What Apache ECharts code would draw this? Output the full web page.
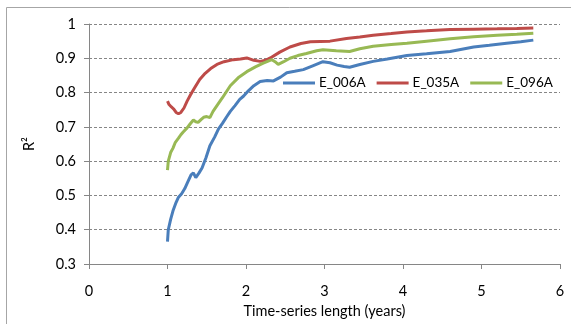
<!DOCTYPE html>
<html>
<head>
<meta charset="utf-8">
<script src="https://cdn.jsdelivr.net/npm/echarts@6/dist/echarts.min.js"></script>
<style>html,body{margin:0;padding:0;background:#fff;}#c{width:571px;height:324px;}</style>
</head>
<body>
<div id="c"></div>
<script>
const seriesNames = ['E_006A', 'E_035A', 'E_096A'];
const xTicks = [0, 1, 2, 3, 4, 5, 6];
const yTicks = [0.3, 0.4, 0.5, 0.6, 0.7, 0.8, 0.9, 1];

const e006A_x = [1.00,1.01,1.04,1.07,1.11,1.14,1.18,1.22,1.26,1.30,1.33,1.36,1.40,1.44,1.49,1.54,1.60,1.65,1.70,1.75,1.80,1.86,1.92,1.97,2.03,2.10,2.18,2.27,2.35,2.44,2.52,2.62,2.73,2.85,2.98,3.07,3.16,3.25,3.32,3.45,3.62,3.80,4.05,4.30,4.60,4.90,5.10,5.32,5.50,5.66];
const e006A_y = [0.365,0.40,0.43,0.455,0.48,0.495,0.505,0.52,0.54,0.56,0.566,0.552,0.565,0.58,0.61,0.645,0.67,0.694,0.71,0.728,0.745,0.762,0.78,0.79,0.805,0.82,0.832,0.835,0.834,0.845,0.858,0.862,0.867,0.878,0.89,0.887,0.88,0.876,0.874,0.882,0.891,0.898,0.908,0.913,0.92,0.933,0.938,0.944,0.948,0.953];

const e035A_x = [1.00,1.02,1.05,1.08,1.11,1.14,1.17,1.21,1.25,1.29,1.34,1.41,1.48,1.55,1.63,1.72,1.84,1.93,2.01,2.10,2.18,2.25,2.31,2.43,2.56,2.70,2.82,3.07,3.28,3.45,3.62,3.85,4.05,4.30,4.60,4.90,5.20,5.45,5.66];
const e035A_y = [0.775,0.765,0.758,0.752,0.742,0.738,0.742,0.755,0.775,0.792,0.812,0.838,0.856,0.87,0.882,0.89,0.896,0.898,0.901,0.894,0.891,0.894,0.901,0.918,0.933,0.943,0.948,0.95,0.958,0.962,0.967,0.972,0.977,0.98,0.984,0.985,0.986,0.987,0.988];

const e096A_x = [1.00,1.01,1.04,1.07,1.10,1.14,1.17,1.20,1.25,1.29,1.33,1.36,1.39,1.43,1.46,1.50,1.54,1.58,1.63,1.70,1.80,1.90,2.01,2.12,2.22,2.33,2.37,2.41,2.48,2.56,2.66,2.77,2.90,2.98,3.15,3.32,3.45,3.62,3.85,4.05,4.30,4.60,4.90,5.20,5.45,5.66];
const e096A_y = [0.574,0.60,0.625,0.638,0.655,0.667,0.677,0.685,0.697,0.709,0.72,0.715,0.713,0.722,0.728,0.73,0.727,0.745,0.762,0.785,0.82,0.843,0.861,0.875,0.886,0.896,0.89,0.882,0.89,0.9,0.908,0.914,0.922,0.925,0.922,0.92,0.928,0.935,0.94,0.944,0.95,0.957,0.963,0.967,0.97,0.973];

const colors = ['#4a7ebb', '#be4b48', '#98b954'];
const xs = [e006A_x, e035A_x, e096A_x];
const ys = [e006A_y, e035A_y, e096A_y];

const font = 'Lato';
const chart = echarts.init(document.getElementById('c'));
chart.setOption({
  animation: false,
  textStyle: { fontFamily: font },
  graphic: [{
    type: 'rect', shape: { x: 6.5, y: 7.5, width: 600, height: 400 },
    style: { fill: 'none', stroke: '#a6a6a6', lineWidth: 1 }, silent: true, z: -1
  }],
  grid: { left: 89, top: 24, right: 11, bottom: 57.3 },
  legend: {
    data: seriesNames,
    left: 283, top: 76, padding: 0,
    icon: 'rect', itemWidth: 32, itemHeight: 3, itemGap: 11,
    textStyle: { fontFamily: font, fontSize: 13.5, color: '#000', padding: [0, 0, 0, -1] }
  },
  xAxis: {
    type: 'value', min: xTicks[0], max: xTicks[xTicks.length - 1], interval: 1,
    name: 'Time-series length (years)', nameLocation: 'middle', nameGap: 40,
    nameTextStyle: { fontFamily: font, fontSize: 14.5, color: '#000' },
    axisLine: { show: true, lineStyle: { color: '#868686', width: 1 } },
    axisTick: { show: true, inside: false, length: 5, lineStyle: { color: '#868686' } },
    axisLabel: { fontFamily: font, fontSize: 14.5, color: '#000', margin: 20 },
    splitLine: { show: false }
  },
  yAxis: {
    type: 'value', min: yTicks[0], max: yTicks[yTicks.length - 1], interval: 0.1,
    name: 'R²', nameLocation: 'middle', nameGap: 52, nameRotate: 90,
    nameTextStyle: { fontFamily: font, fontSize: 14.5, color: '#000' },
    axisLine: { show: true, lineStyle: { color: '#868686', width: 1 } },
    axisTick: { show: true, inside: false, length: 5, lineStyle: { color: '#868686' } },
    axisLabel: { fontFamily: font, fontSize: 14.5, color: '#000', margin: 13,
      formatter: v => String(Math.round(v * 10) / 10) },
    splitLine: { show: true, lineStyle: { color: '#868686', type: [3, 2], width: 1 } }
  },
  series: seriesNames.map((n, i) => ({
    name: n, type: 'line', showSymbol: false, symbol: 'none',
    data: xs[i].map((x, j) => [x, ys[i][j]]),
    lineStyle: { color: colors[i], width: 3 }, itemStyle: { color: colors[i] }
  }))
});
</script>
</body>
</html>
